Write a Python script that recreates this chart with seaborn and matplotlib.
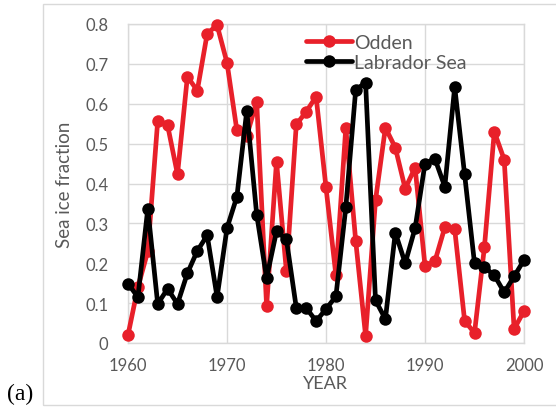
import matplotlib
matplotlib.use("Agg")
import matplotlib.pyplot as plt
import seaborn as sns
import pandas as pd
from matplotlib.patches import Rectangle

years = list(range(1960, 2001))
odden = [0.02, 0.14, 0.23, 0.557, 0.546, 0.423, 0.668, 0.633, 0.776, 0.797,
         0.703, 0.533, 0.52, 0.605, 0.092, 0.455, 0.18, 0.548, 0.58, 0.618,
         0.39, 0.17, 0.54, 0.256, 0.018, 0.358, 0.54, 0.49, 0.387, 0.44,
         0.193, 0.205, 0.29, 0.285, 0.056, 0.025, 0.24, 0.53, 0.46, 0.035, 0.08]
labrador = [0.149, 0.115, 0.337, 0.098, 0.136, 0.098, 0.175, 0.231, 0.27, 0.115,
            0.288, 0.367, 0.583, 0.322, 0.163, 0.28, 0.26, 0.088, 0.088, 0.055,
            0.085, 0.117, 0.34, 0.635, 0.653, 0.107, 0.06, 0.277, 0.2, 0.288,
            0.45, 0.462, 0.392, 0.642, 0.423, 0.2, 0.19, 0.17, 0.127, 0.167, 0.208]
series_names = ["Odden", "Labrador Sea"]
y_ticks = [0, 0.1, 0.2, 0.3, 0.4, 0.5, 0.6, 0.7, 0.8]
y_ticklabels = ["0", "0.1", "0.2", "0.3", "0.4", "0.5", "0.6", "0.7", "0.8"]
x_ticks = [1960, 1970, 1980, 1990, 2000]

sns.set_style("white")
plt.rcParams["font.family"] = ["Lato", "DejaVu Sans"]

txt = "#595959"
grid = "#D9D9D9"

fig = plt.figure(figsize=(5.56, 4.10), dpi=100)
ax = fig.add_axes([128/556, 1-344/410, (524-128)/556, (344-25)/410])

df = pd.DataFrame({"year": years, "Odden": odden, "Labrador Sea": labrador})
colors = {"Odden": "#E8202A", "Labrador Sea": "#000000"}
for name in series_names:
    sns.lineplot(data=df, x="year", y=name, ax=ax, color=colors[name],
                 marker="o", markersize=9, markeredgewidth=0, linewidth=3.4,
                 label=name, clip_on=False, zorder=3)

ax.set_xlim(1960, 2000)
ax.set_ylim(0, 0.8)
ax.set_xticks(x_ticks)
ax.set_xticklabels([str(x) for x in x_ticks])
ax.set_yticks(y_ticks)
ax.set_yticklabels(y_ticklabels)
ax.grid(True, color=grid, linewidth=1)
ax.set_axisbelow(True)
for s in ax.spines.values():
    s.set_color(grid)
    s.set_linewidth(1)
ax.tick_params(axis="both", length=0, labelsize=12, colors=txt)
ax.tick_params(axis="y", pad=14)
ax.tick_params(axis="x", pad=10)
ax.set_xlabel("")
ax.set_ylabel("")

fig.text(65/556, 1-185/410, "Sea ice fraction", rotation=90, ha="center",
         va="center", fontsize=13.5, color=txt)
fig.text(325/556, 1-384/410, "YEAR", ha="center", va="center",
         fontsize=13, color=txt)
fig.text(20/556, 1-394/410, "(a)", ha="center", va="center", fontsize=17,
         color="#000000", family=["Liberation Serif", "DejaVu Serif"])

leg = ax.legend(loc="upper left", bbox_to_anchor=((296-128)/(524-128), 1.0),
                frameon=False, fontsize=14, handlelength=2.4,
                handletextpad=0.1, labelspacing=0.15, borderaxespad=0.1)
for t in leg.get_texts():
    t.set_color(txt)

fig.patches.append(Rectangle((43/556, 1-406/410), 1.0, (406-5)/410,
                             transform=fig.transFigure, fill=False,
                             edgecolor=grid, linewidth=1))

fig.savefig("out.png", dpi=100)
